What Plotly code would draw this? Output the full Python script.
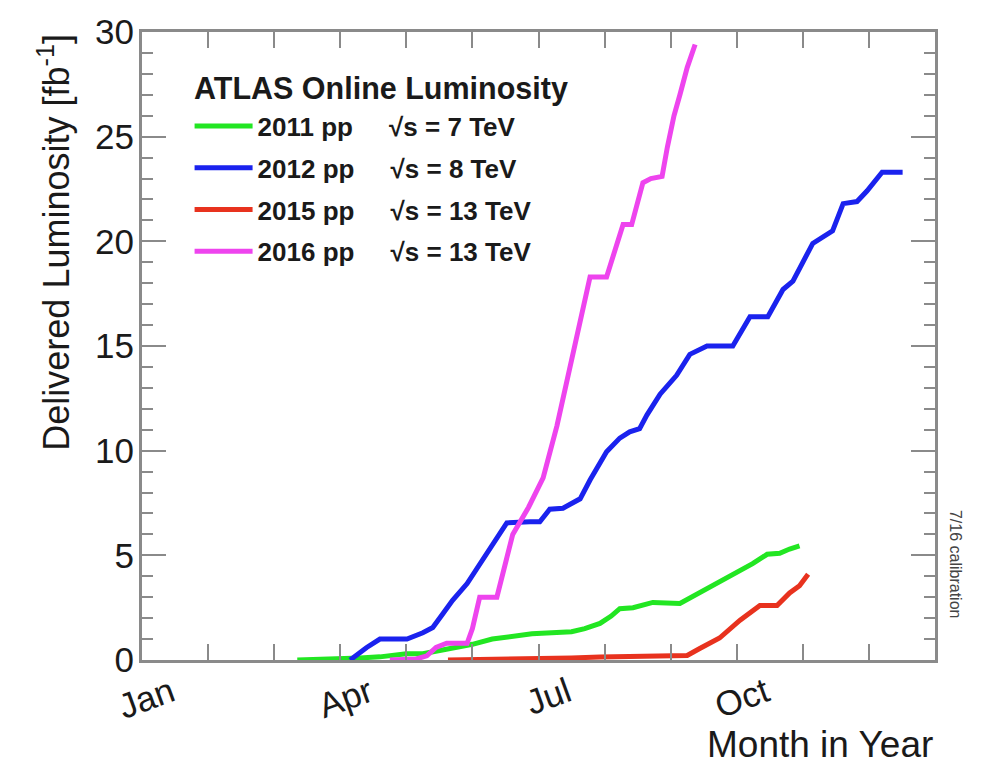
import plotly.graph_objects as go

# ---- data (x in months since Jan 1, y in fb^-1) ----
m2011 = [2.35, 2.9, 3.3, 3.6, 4.0, 4.25, 4.5, 4.75, 5.0, 5.3, 5.6, 5.9, 6.2, 6.5, 6.7, 6.93, 7.1, 7.23, 7.43,
         7.73, 8.14, 8.29, 8.59, 8.94, 9.24, 9.46, 9.65, 9.8, 9.95]
l2011 = [0, 0.03, 0.1, 0.15, 0.3, 0.3, 0.45, 0.6, 0.75, 1.0, 1.15, 1.25, 1.3, 1.35, 1.5, 1.75, 2.1, 2.45, 2.5,
         2.75, 2.7, 2.95, 3.5, 4.1, 4.6, 5.05, 5.1, 5.3, 5.45]

m2012 = [3.15, 3.40, 3.60, 4.01, 4.25, 4.40, 4.55, 4.70, 4.92, 5.11, 5.31, 5.52, 5.87, 6.02, 6.17, 6.37, 6.63,
         6.78, 7.03, 7.23, 7.38, 7.53, 7.64, 7.84, 8.09, 8.29, 8.55, 8.94, 9.2, 9.47, 9.70, 9.85, 10.15, 10.45,
         10.61, 10.82, 10.97, 11.2, 11.51]
l2012 = [0, 0.6, 1.0, 1.0, 1.3, 1.55, 2.2, 2.85, 3.65, 4.6, 5.5, 6.55, 6.6, 6.6, 7.2, 7.25, 7.7,
         8.6, 9.95, 10.6, 10.9, 11.05, 11.7, 12.7, 13.6, 14.6, 15.0, 15.0, 16.4, 16.4, 17.7, 18.1, 19.9, 20.5,
         21.8, 21.9, 22.4, 23.3, 23.3]

m2015 = [4.63, 5.5, 6.0, 6.5, 6.93, 7.69, 8.25, 8.44, 8.74, 9.05, 9.35, 9.61, 9.80, 9.95, 10.08]
l2015 = [0, 0.02, 0.05, 0.1, 0.14, 0.2, 0.22, 0.55, 1.05, 1.9, 2.6, 2.6, 3.2, 3.55, 4.1]

m2016 = [3.75, 4.15, 4.31, 4.45, 4.61, 4.92, 5.0, 5.11, 5.37, 5.5, 5.61, 5.85, 6.07, 6.28, 6.43, 6.58, 6.68,
         6.78, 7.03, 7.28, 7.41, 7.58, 7.7, 7.87, 7.95, 8.05, 8.14, 8.25, 8.37]
l2016 = [0, 0.05, 0.2, 0.6, 0.8, 0.8, 1.5, 3.0, 3.0, 4.6, 6.0, 7.3, 8.7, 11.2, 13.3, 15.6, 16.8,
         18.3, 18.3, 20.8, 20.8, 22.8, 23.0, 23.1, 24.5, 26.0, 27.0, 28.3, 29.4]

series_names = ["2011 pp", "2012 pp", "2015 pp", "2016 pp"]
energies = ["7 TeV", "8 TeV", "13 TeV", "13 TeV"]
colors = ["#22e622", "#1a22ee", "#e8321e", "#ee44ee"]

month_ticks = list(range(12))
month_labels = ["Jan", "", "", "Apr", "", "", "Jul", "", "", "Oct", "", ""]

FONT = "Liberation Sans, Arial, sans-serif"
AXC = "#8a8a8a"

fig = go.Figure()
NB = "\u00a0"
for xs, ys, name, en, c in zip([m2011, m2012, m2015, m2016], [l2011, l2012, l2015, l2016],
                               series_names, energies, colors):
    label = name + NB * 5 + "√s" + NB + "=" + NB + en
    fig.add_trace(go.Scatter(x=xs, y=ys, mode="lines", name=label, legendgroup=name,
                             line=dict(color=c, width=5)))

fig.update_layout(
    width=982, height=765,
    margin=dict(l=142, r=47, t=26, b=105),
    paper_bgcolor="white", plot_bgcolor="white",
    font=dict(family=FONT, color="#1a1a1a"),
    showlegend=True,
    legend=dict(
        x=0.060, y=0.8877, xanchor="left", yanchor="top",
        bgcolor="rgba(0,0,0,0)",
        font=dict(family=FONT, size=26, color="#1a1a1a", weight="bold"),
        itemwidth=58, tracegroupgap=5,
    ),
    xaxis=dict(
        range=[0, 12], showgrid=False, zeroline=False,
        showline=True, linecolor=AXC, linewidth=3, mirror="ticks",
        tickmode="array", tickvals=month_ticks, ticktext=month_labels,
        ticks="inside", ticklen=16, tickwidth=2, tickcolor=AXC,
        tickangle=-20, ticklabelshift=29, ticklabelstandoff=-4,
        tickfont=dict(family=FONT, size=35, color="#1a1a1a"),
    ),
    yaxis=dict(
        range=[0, 30], showgrid=False, zeroline=False,
        showline=True, linecolor=AXC, linewidth=3, mirror="ticks",
        tickmode="linear", tick0=0, dtick=5,
        ticks="inside", ticklen=24, tickwidth=2, tickcolor=AXC,
        minor=dict(dtick=1, ticklen=11, tickwidth=2, tickcolor=AXC, ticks="inside"),
        ticklabelstandoff=-2,
        tickfont=dict(family=FONT, size=35, color="#1a1a1a"),
    ),
    annotations=[
        dict(text="<b>ATLAS Online Luminosity</b>", xref="paper", yref="paper",
             x=0.0625, y=(660 - 83) / 634, xanchor="left", yanchor="middle", showarrow=False,
             font=dict(family=FONT, size=30.5, color="#1a1a1a")),
        dict(text="Delivered Luminosity [fb<sup>-1</sup>]", xref="paper", yref="paper",
             x=-0.112, y=1.0, xanchor="center", yanchor="top", textangle=-90, showarrow=False,
             font=dict(family=FONT, size=36, color="#1a1a1a")),
        dict(text="Month in Year", xref="paper", yref="paper", x=1.0, y=-0.134,
             xanchor="right", yanchor="middle", showarrow=False,
             font=dict(family=FONT, size=37, color="#1a1a1a")),
        dict(text="7/16 calibration", xref="paper", yref="paper", x=1.026, y=0.152,
             xanchor="center", yanchor="middle", textangle=90, showarrow=False,
             font=dict(family=FONT, size=16, color="#444444")),
    ],
)

fig.write_html("out.html")
